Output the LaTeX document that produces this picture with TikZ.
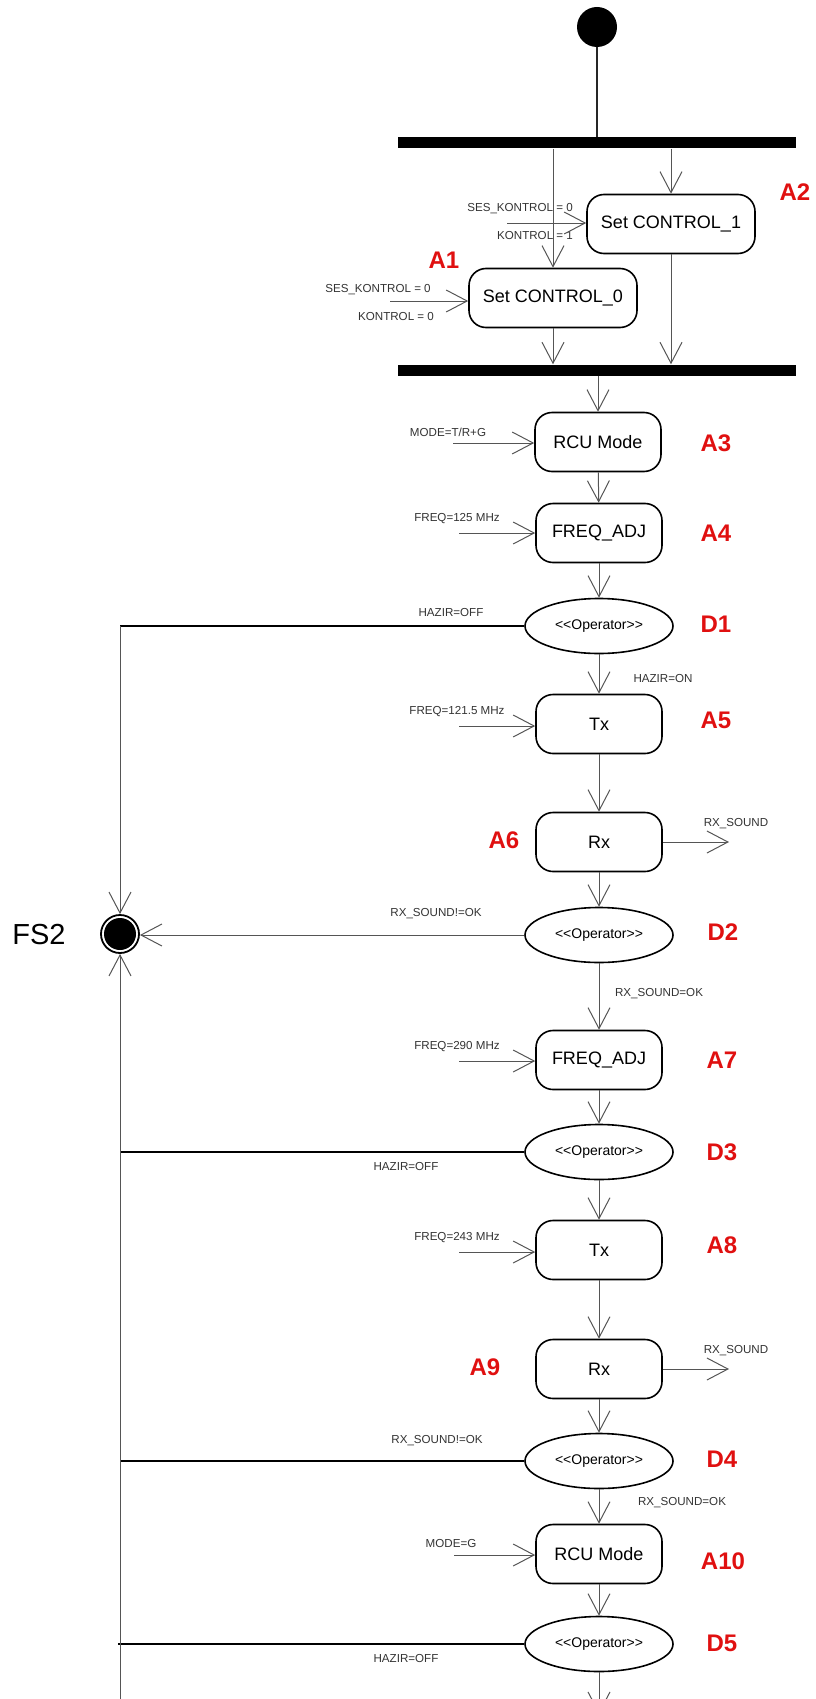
\documentclass[tikz,border=0pt]{standalone}
\usepackage{fontspec}
\setmainfont{Liberation Sans}
\usetikzlibrary{arrows.meta, positioning, shapes.geometric}
\definecolor{tagred}{HTML}{E01010}
\definecolor{linegray}{HTML}{555555}
\definecolor{txtgray}{HTML}{333333}

\begin{document}
\begin{tikzpicture}[
    x=1pt, y=-1pt,
    >={Straight Barb[length=21pt, width=22pt]},
    actbox/.style={
        draw=black, line width=1.6pt, rounded corners=17pt,
        minimum width=126pt, minimum height=59pt, inner sep=0pt,
        font=\fontsize{18}{22}\selectfont,
    },
    ctrlbox/.style={actbox, minimum width=168pt},
    opbox/.style={
        ellipse, draw=black, line width=1.6pt,
        minimum width=148pt, minimum height=55pt, inner sep=0pt,
        font=\fontsize{14}{17}\selectfont,
    },
    bar/.style={fill=black, minimum width=398pt, minimum height=11pt, inner sep=0pt},
    tag/.style={font=\fontsize{24}{28}\selectfont\bfseries, text=tagred, inner sep=0pt},
    cond/.style={font=\fontsize{11.6}{13}\selectfont, text=txtgray, inner sep=0pt},
    arr/.style={->, line width=1pt, color=linegray},
    dline/.style={line width=1.6pt, color=black},
]
\useasboundingbox (0,0) rectangle (816,1699);
\clip (0,0) rectangle (816,1699);

% Start and fork / join
\node[circle, fill=black, minimum size=40pt, inner sep=0pt] (start) at (597,27) {};
\node[bar] (fork) at (597,143) {};
\node[ctrlbox] (ctrl1) at (671,224) {Set CONTROL\_1};
\node[ctrlbox] (ctrl0) at (553,298) {Set CONTROL\_0};
\node[bar] (join) at (597,370) {};

% Main column
\node[actbox] (rcu1) at (598,442) {RCU Mode};
\node[actbox] (freq1) at (599,533) {FREQ\_ADJ};
\node[opbox] (d1) at (599,626) {<\kern0pt<Operator>\kern0pt>};
\node[actbox] (tx1) at (599,724) {Tx};
\node[actbox] (rx1) at (599,842) {Rx};
\node[opbox] (d2) at (599,935) {<\kern0pt<Operator>\kern0pt>};
\node[actbox] (freq2) at (599,1060) {FREQ\_ADJ};
\node[opbox] (d3) at (599,1152) {<\kern0pt<Operator>\kern0pt>};
\node[actbox] (tx2) at (599,1250) {Tx};
\node[actbox] (rx2) at (599,1369) {Rx};
\node[opbox] (d4) at (599,1461) {<\kern0pt<Operator>\kern0pt>};
\node[actbox] (rcu2) at (599,1554) {RCU Mode};
\node[opbox] (d5) at (599,1644) {<\kern0pt<Operator>\kern0pt>};

% Final state
\node[circle, draw=black, line width=1.8pt, minimum size=38pt, inner sep=0pt] (fs2) at (120,934) {};
\fill (fs2) circle (16pt);
\node[font=\fontsize{29}{34}\selectfont] (fs2name) at (39,935) {FS2};

% Red tags
\node[tag] (a1) at (444,260) {A1};
\node[tag] (a2) at (795,192) {A2};
\node[tag] (a3) at (716,443) {A3};
\node[tag] (a4) at (716,533) {A4};
\node[tag] (t1) at (716,624) {D1};
\node[tag] (a5) at (716,720) {A5};
\node[tag] (a6) at (504,840) {A6};
\node[tag] (t2) at (723,932) {D2};
\node[tag] (a7) at (722,1060) {A7};
\node[tag] (t3) at (722,1152) {D3};
\node[tag] (a8) at (722,1245) {A8};
\node[tag] (a9) at (485,1367) {A9};
\node[tag] (t4) at (722,1459) {D4};
\node[tag] (a10) at (723,1561) {A10};
\node[tag] (t5) at (722,1643) {D5};

% Free ends of in / out arrows
\coordinate (in1) at (507,223);
\coordinate (in0) at (390,301);
\coordinate (in3) at (453,443);
\coordinate (in4) at (459,533);
\coordinate (in5) at (459,726);
\coordinate (in7) at (459,1061);
\coordinate (in8) at (459,1252);
\coordinate (in10) at (454,1555);
\coordinate (out6) at (729,842);
\coordinate (out9) at (729,1369);
\coordinate (fs2bot) at (120,1699);
\coordinate (next) at (599,1714);

% Conditions
\node[cond] (ses1) at (520,209) {SES\_KONTROL = 0};
\node[cond] (kon1) at (535,236) {KONTROL = 1};
\node[cond] (ses0) at (378,290) {SES\_KONTROL = 0};
\node[cond] (kon0) at (396,317) {KONTROL = 0};
\node[cond] (mode1) at (448,432) {MODE=T/R+G};
\node[cond] (fq1) at (457,519) {FREQ=125 MHz};
\node[cond] (off1) at (451,613) {HAZIR=OFF};
\node[cond] (on1) at (663,679) {HAZIR=ON};
\node[cond] (fq2) at (457,712) {FREQ=121.5 MHz};
\node[cond] (snd1) at (736,824) {RX\_SOUND};
\node[cond] (nok1) at (436,914) {RX\_SOUND!=OK};
\node[cond] (ok1) at (659,994) {RX\_SOUND=OK};
\node[cond] (fq3) at (457,1047) {FREQ=290 MHz};
\node[cond] (off3) at (406,1166) {HAZIR=OFF};
\node[cond] (fq4) at (457,1238) {FREQ=243 MHz};
\node[cond] (snd2) at (736,1351) {RX\_SOUND};
\node[cond] (nok2) at (437,1441) {RX\_SOUND!=OK};
\node[cond] (ok2) at (682,1503) {RX\_SOUND=OK};
\node[cond] (mode2) at (451,1543) {MODE=G};
\node[cond] (off5) at (406,1658) {HAZIR=OFF};

% Fork and join arrows
\draw[line width=1.3pt, color=black!85] (start) -- (fork);
\draw[arr] (fork.south -| ctrl0.north) -- (ctrl0.north);
\draw[arr] (fork.south -| ctrl1.north) -- (ctrl1.north);
\draw[arr] (ctrl0.south) -- (ctrl0.south |- join.north);
\draw[arr] (ctrl1.south) -- (ctrl1.south |- join.north);
\draw[arr] (join.south -| rcu1.north) -- (rcu1.north);

% Main flow arrows
\draw[arr] (rcu1) -- (freq1);
\draw[arr] (freq1) -- (d1);
\draw[arr] (d1) -- (tx1);
\draw[arr] (tx1) -- (rx1);
\draw[arr] (rx1) -- (d2);
\draw[arr] (d2) -- (freq2);
\draw[arr] (freq2) -- (d3);
\draw[arr] (d3) -- (tx2);
\draw[arr] (tx2) -- (rx2);
\draw[arr] (rx2) -- (d4);
\draw[arr] (d4) -- (rcu2);
\draw[arr] (rcu2) -- (d5);
\draw[arr] (d5) -- (next);

% Inputs and outputs
\draw[arr] (in1) -- (in1 -| ctrl1.west);
\draw[arr] (in0) -- (in0 -| ctrl0.west);
\draw[arr] (in3) -- (in3 -| rcu1.west);
\draw[arr] (in4) -- (in4 -| freq1.west);
\draw[arr] (in5) -- (in5 -| tx1.west);
\draw[arr] (in7) -- (in7 -| freq2.west);
\draw[arr] (in8) -- (in8 -| tx2.west);
\draw[arr] (in10) -- (in10 -| rcu2.west);
\draw[arr] (rx1.east) -- (out6);
\draw[arr] (rx2.east) -- (out9);

% Exits to FS2
\draw[dline] (d1.west) -- (d1.west -| fs2.north);
\draw[arr] (d1.west -| fs2.north) -- (fs2.north);
\draw[arr] (d2.west) -- (d2.west -| fs2.east);
\draw[dline] (d3.west) -- (d3.west -| fs2.south);
\draw[dline] (d4.west) -- (d4.west -| fs2.south);
\draw[dline] (d5.west) -- ([xshift=-2pt]d5.west -| fs2.south);
\draw[arr] (fs2bot) -- (fs2.south);

\end{tikzpicture}
\end{document}
